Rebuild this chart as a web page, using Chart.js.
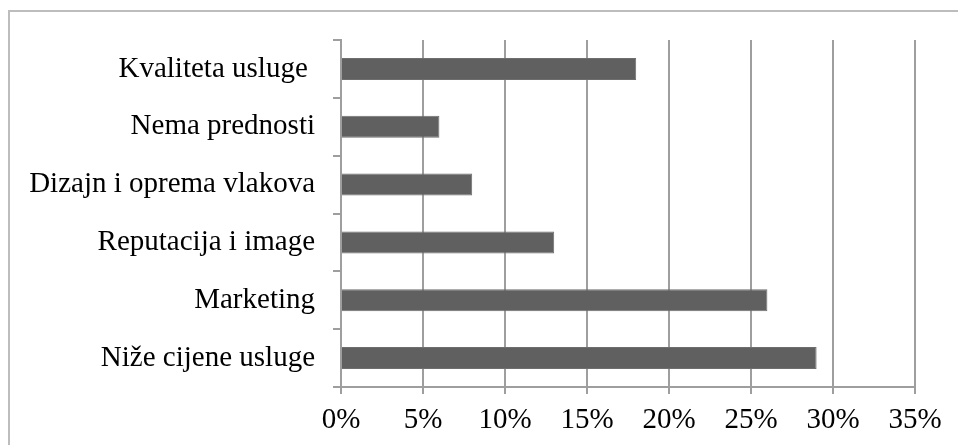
<!DOCTYPE html>
<html>
<head>
<meta charset="utf-8">
<script src="https://cdn.jsdelivr.net/npm/chart.js@4/dist/chart.umd.min.js"></script>
<style>
  html, body { margin: 0; padding: 0; background: #fff; overflow: hidden; }
  #wrap { width: 958px; height: 445px; position: relative; overflow: hidden; }
</style>
</head>
<body>
<div id="wrap"><canvas id="prednosti-chart"></canvas></div>
<script>
var categories = ['Kvaliteta usluge ', 'Nema prednosti', 'Dizajn i oprema vlakova', 'Reputacija i image', 'Marketing', 'Niže cijene usluge'];
var shares = [18, 6, 8, 13, 26, 29];
var xTicks = [0, 5, 10, 15, 20, 25, 30, 35];

// frame round the whole chart (only its top and left edge are in view)
var framePlugin = {
    id: 'frame',
    beforeDraw: function(chart) {
        var ctx = chart.ctx;
        ctx.save();
        ctx.strokeStyle = '#bdbdbd';
        ctx.lineWidth = 2;
        ctx.beginPath();
        ctx.moveTo(9, chart.height);
        ctx.lineTo(9, 11);
        ctx.lineTo(chart.width, 11);
        ctx.stroke();
        ctx.restore();
    }
};

function load_chart() {
    var canvas = document.getElementById('prednosti-chart').getContext('2d');
    var font = { family: '"Liberation Serif", "Times New Roman", serif', size: 29 };
    var gridColor = '#9e9e9e';

    new Chart(canvas, {
        type: 'bar',
        data: {
            labels: categories,
            datasets: [{
                data: shares,
                backgroundColor: '#606060',
                borderColor: '#6e6e6e',
                borderWidth: 1,
                categoryPercentage: 1,
                barPercentage: 0.38
            }]
        },
        options: {
            indexAxis: 'y',
            responsive: true,
            maintainAspectRatio: false,
            animation: false,
            layout: { padding: { top: 40, right: 43, bottom: 0, left: 0 } },
            plugins: {
                legend: { display: false },
                tooltip: { enabled: false }
            },
            scales: {
                x: {
                    min: 0,
                    max: 35,
                    afterBuildTicks: function(scale) {
                        scale.ticks = xTicks.map(function(v) { return { value: v }; });
                    },
                    afterFit: function(scale) { scale.height = 58; },
                    grid: { color: gridColor, lineWidth: 2, tickLength: 7 },
                    border: { color: gridColor, width: 2 },
                    ticks: {
                        color: '#000',
                        font: font,
                        padding: 9,
                        maxRotation: 0,
                        callback: function(v) { return v + '%'; }
                    }
                },
                y: {
                    afterFit: function(scale) { scale.width = 341; },
                    grid: { offset: true, drawOnChartArea: false, color: gridColor, lineWidth: 2, tickLength: 8 },
                    border: { color: gridColor, width: 2 },
                    ticks: { color: '#000', font: font, padding: 18 }
                }
            }
        },
        plugins: [framePlugin]
    });
}

load_chart();
</script>
</body>
</html>
